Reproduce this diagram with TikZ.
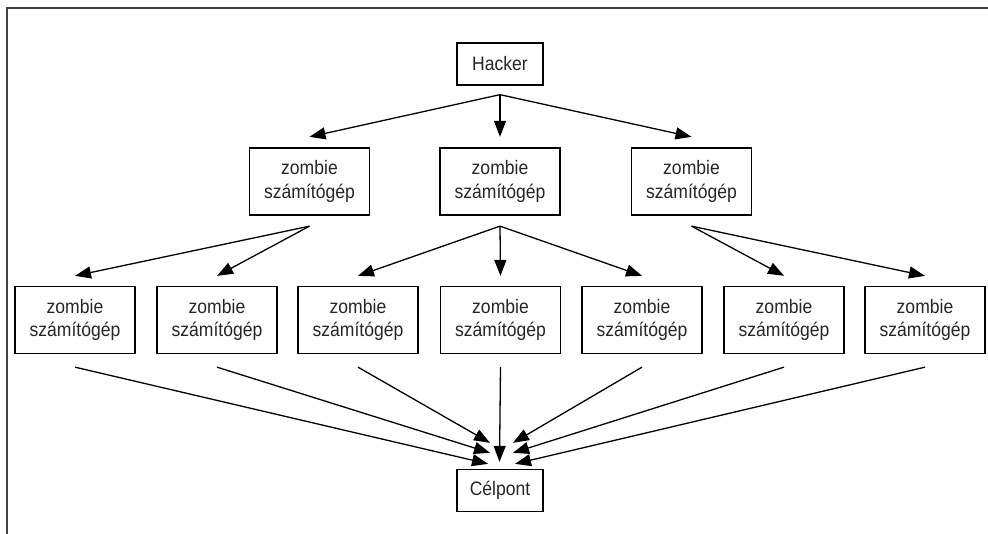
\documentclass[tikz,border=0pt]{standalone}
\usepackage{fontspec}
\setmainfont{Liberation Sans}[FakeStretch=0.9]
\usetikzlibrary{arrows.meta}
\begin{document}
\begin{tikzpicture}[x=1pt,y=-1pt,
  box/.style={draw=black, line width=1.3pt, fill=white, align=center, inner sep=0pt,
    font=\fontsize{19.5}{23.3}\selectfont, text=black!85},
  zbox/.style={box, minimum width=120pt, minimum height=67pt},
  sbox/.style={box, minimum width=86pt, minimum height=42pt},
  arr/.style={line width=1.3pt, -{Triangle[length=16pt,width=12pt]}},
  frameline/.style={line width=2pt, draw=black!75}]
\useasboundingbox (0,0) rectangle (988,534);
\draw[frameline] (7,534) -- (7,8.5) -- (988,8.5);

\node[sbox] (hacker) at (500,64) {Hacker};
\node[zbox] (a1) at (309.5,181.5) {zombie\\számítógép};
\node[zbox] (a2) at (500,181.5) {zombie\\számítógép};
\node[zbox] (a3) at (691.5,181.5) {zombie\\számítógép};

\node[zbox] (b1) at (75,320) {zombie\\számítógép};
\node[zbox] (b2) at (217,320) {zombie\\számítógép};
\node[zbox] (b3) at (358,320) {zombie\\számítógép};
\node[zbox] (b4) at (500.5,320) {zombie\\számítógép};
\node[zbox] (b5) at (642,320) {zombie\\számítógép};
\node[zbox] (b6) at (784,320) {zombie\\számítógép};
\node[zbox] (b7) at (925,320) {zombie\\számítógép};

\node[sbox] (target) at (500,490.5) {Célpont};

\foreach \t in {a1,a2,a3}
  \draw[arr] ([yshift=-9pt]hacker.south) -- ([yshift=10.5pt]\t.north);
\foreach \t in {b1,b2}
  \draw[arr] ([yshift=-10.5pt]a1.south) -- ([yshift=10pt]\t.north);
\foreach \t in {b3,b4,b5}
  \draw[arr] ([yshift=-10.5pt]a2.south) -- ([yshift=10pt]\t.north);
\foreach \t in {b6,b7}
  \draw[arr] ([yshift=-10.5pt]a3.south) -- ([yshift=10pt]\t.north);

\draw[arr] ([yshift=-13pt]b1.south) -- ([xshift=-12pt,yshift=5pt]target.north);
\draw[arr] ([yshift=-13pt]b2.south) -- ([xshift=-10pt,yshift=16pt]target.north);
\draw[arr] ([yshift=-13pt]b3.south) -- ([xshift=-10pt,yshift=26pt]target.north);
\draw[arr] ([yshift=-13pt]b4.south) -- ([xshift=-0.5pt,yshift=7pt]target.north);
\draw[arr] ([yshift=-13pt]b5.south) -- ([xshift=13pt,yshift=26pt]target.north);
\draw[arr] ([yshift=-13pt]b6.south) -- ([xshift=13pt,yshift=16pt]target.north);
\draw[arr] ([yshift=-13pt]b7.south) -- ([xshift=15pt,yshift=5pt]target.north);
\end{tikzpicture}
\end{document}
